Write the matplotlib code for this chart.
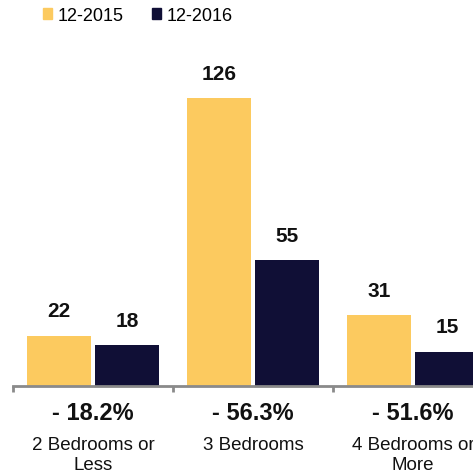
import matplotlib.pyplot as plt
from matplotlib.patches import Patch

plt.rcParams["font.family"] = ["Liberation Sans", "DejaVu Sans"]

categories = ["2 Bedrooms or\nLess", "3 Bedrooms", "4 Bedrooms or\nMore"]
changes = ["- 18.2%", "- 56.3%", "- 51.6%"]
series_names = ["12-2015", "12-2016"]
values_2015 = [22, 126, 31]
values_2016 = [18, 55, 15]

yellow = "#FCCA5F"
navy = "#100F36"
grey = "#8A8A8A"

fig = plt.figure(figsize=(4.73, 4.77), dpi=100)
ax = fig.add_axes([13 / 473, (477 - 387) / 477, 1 - 13 / 473, (387 - 60) / 477])

x = list(range(len(categories)))
w = 0.405
off = 0.213
b1 = ax.bar([i - off for i in x], values_2015, w, color=yellow)
b2 = ax.bar([i + off for i in x], values_2016, w, color=navy)

for bars, vals in ((b1, values_2015), (b2, values_2016)):
    for rect, v in zip(bars, vals):
        ax.annotate(str(v), (rect.get_x() + rect.get_width() / 2, rect.get_height()),
                    xytext=(0, 11), textcoords="offset points",
                    ha="center", va="bottom", fontsize=15, fontweight="bold",
                    color="#111111")

for i in x:
    ax.annotate(changes[i], (i, 0), xytext=(0, -19), textcoords="offset points",
                ha="center", va="center", fontsize=17, fontweight="bold",
                color="#111111", annotation_clip=False)
    ax.annotate(categories[i], (i, 0), xytext=(0, -36), textcoords="offset points",
                ha="center", va="top", fontsize=13.5, linespacing=1.2,
                color="#111111", annotation_clip=False)

for s in ("top", "right", "left"):
    ax.spines[s].set_visible(False)
ax.spines["bottom"].set_color(grey)
ax.spines["bottom"].set_linewidth(2)
ax.set_yticks([])
ax.set_xticks([-0.5, 0.5, 1.5, 2.5])
ax.set_xticklabels([])
ax.tick_params(axis="x", length=4, width=2, color=grey, direction="out")

# limits last: set_xticks would otherwise widen the view
ax.set_xlim(-0.5, 2.375)
ax.set_ylim(0, 327 / 2.286)

handles = [Patch(color=yellow), Patch(color=navy)]
fig.legend(handles, series_names, loc="upper left",
           bbox_to_anchor=(43 / 473, 1 - 8 / 477), ncol=2, frameon=False,
           fontsize=13, handlelength=0.5, handleheight=0.5,
           handletextpad=0.3, columnspacing=1.6, borderpad=0, borderaxespad=0)

fig.savefig("out.png", dpi=100)
